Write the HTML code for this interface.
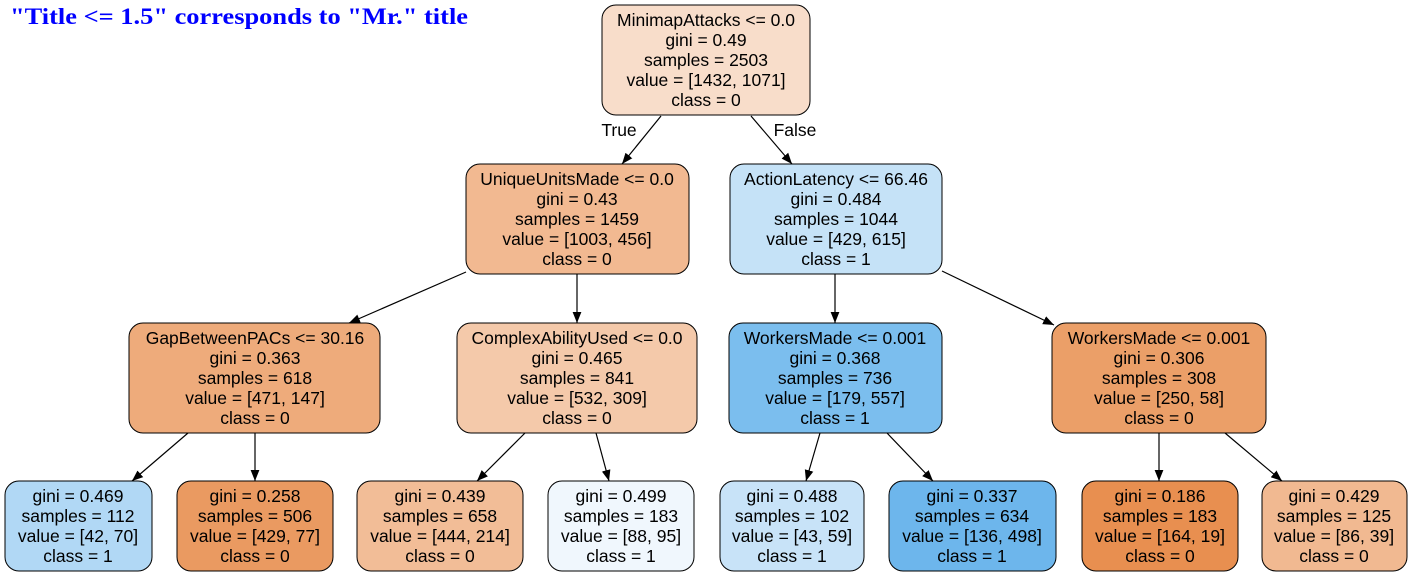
<!DOCTYPE html>
<html><head><meta charset="utf-8"><style>
html,body{margin:0;padding:0;background:#fff;width:1413px;height:577px;overflow:hidden}
svg{display:block}
text{font-family:"Liberation Sans",sans-serif;font-size:17.5px;fill:#000;text-anchor:middle}
.t{font-family:"Liberation Serif",serif;font-weight:bold;font-size:23px;fill:#0000ff;text-anchor:start}
rect{stroke:#000;stroke-width:1}
line{stroke:#000;stroke-width:1.2}
</style></head><body>
<svg width="1413" height="577" viewBox="0 0 1413 577">
<defs><marker id="a" viewBox="0 0 10 10" refX="10" refY="5" markerWidth="11" markerHeight="11" markerUnits="userSpaceOnUse" orient="auto"><path d="M0,1 L10,5 L0,9z" fill="#000"/></marker></defs>
<text class="t" x="10" y="24" textLength="458" lengthAdjust="spacingAndGlyphs">"Title &lt;= 1.5" corresponds to "Mr." title</text>

<g marker-end="url(#a)">
<line x1="661" y1="116" x2="622" y2="164"/>
<line x1="751" y1="116" x2="792" y2="164"/>
<line x1="466" y1="272" x2="349" y2="323"/>
<line x1="577" y1="274" x2="577" y2="323"/>
<line x1="835" y1="274" x2="835" y2="323"/>
<line x1="942" y1="271" x2="1054" y2="325"/>
<line x1="188" y1="433" x2="132" y2="481"/>
<line x1="255" y1="433" x2="255" y2="481"/>
<line x1="525" y1="433" x2="477" y2="481"/>
<line x1="596" y1="433" x2="609" y2="481"/>
<line x1="820" y1="433" x2="806" y2="481"/>
<line x1="887" y1="433" x2="933" y2="481"/>
<line x1="1159" y1="433" x2="1159" y2="481"/>
<line x1="1225" y1="433" x2="1282" y2="481"/>
</g>
<text x="619" y="136">True</text>
<text x="795" y="136">False</text>

<rect x="602" y="5" width="208" height="110" rx="14" fill="#f8ddca"/>
<text x="706" y="26">MinimapAttacks &lt;= 0.0</text><text x="706" y="46">gini = 0.49</text><text x="706" y="66">samples = 2503</text><text x="706" y="86">value = [1432, 1071]</text><text x="706" y="106">class = 0</text>

<rect x="466" y="164" width="223" height="110" rx="14" fill="#f2b991"/>
<text x="577" y="185">UniqueUnitsMade &lt;= 0.0</text><text x="577" y="205">gini = 0.43</text><text x="577" y="225">samples = 1459</text><text x="577" y="245">value = [1003, 456]</text><text x="577" y="265">class = 0</text>

<rect x="730" y="164" width="212" height="110" rx="14" fill="#c5e2f7"/>
<text x="836" y="185">ActionLatency &lt;= 66.46</text><text x="836" y="205">gini = 0.484</text><text x="836" y="225">samples = 1044</text><text x="836" y="245">value = [429, 615]</text><text x="836" y="265">class = 1</text>

<rect x="129" y="323" width="251" height="110" rx="14" fill="#eeab7b"/>
<text x="255" y="344">GapBetweenPACs &lt;= 30.16</text><text x="255" y="364">gini = 0.363</text><text x="255" y="384">samples = 618</text><text x="255" y="404">value = [471, 147]</text><text x="255" y="424">class = 0</text>

<rect x="457" y="323" width="240" height="110" rx="14" fill="#f4c9aa"/>
<text x="577" y="344">ComplexAbilityUsed &lt;= 0.0</text><text x="577" y="364">gini = 0.465</text><text x="577" y="384">samples = 841</text><text x="577" y="404">value = [532, 309]</text><text x="577" y="424">class = 0</text>

<rect x="729" y="323" width="213" height="110" rx="14" fill="#7bbeee"/>
<text x="835" y="344">WorkersMade &lt;= 0.001</text><text x="835" y="364">gini = 0.368</text><text x="835" y="384">samples = 736</text><text x="835" y="404">value = [179, 557]</text><text x="835" y="424">class = 1</text>

<rect x="1052" y="323" width="214" height="110" rx="14" fill="#eb9f68"/>
<text x="1159" y="344">WorkersMade &lt;= 0.001</text><text x="1159" y="364">gini = 0.306</text><text x="1159" y="384">samples = 308</text><text x="1159" y="404">value = [250, 58]</text><text x="1159" y="424">class = 0</text>

<rect x="5" y="481" width="147" height="90" rx="14" fill="#b1d8f5"/>
<text x="78" y="502">gini = 0.469</text><text x="78" y="522">samples = 112</text><text x="78" y="542">value = [42, 70]</text><text x="78" y="562">class = 1</text>

<rect x="177" y="481" width="156" height="90" rx="14" fill="#ea9a61"/>
<text x="255" y="502">gini = 0.258</text><text x="255" y="522">samples = 506</text><text x="255" y="542">value = [429, 77]</text><text x="255" y="562">class = 0</text>

<rect x="357" y="481" width="166" height="90" rx="14" fill="#f2bd97"/>
<text x="440" y="502">gini = 0.439</text><text x="440" y="522">samples = 658</text><text x="440" y="542">value = [444, 214]</text><text x="440" y="562">class = 0</text>

<rect x="548" y="481" width="146" height="90" rx="14" fill="#f0f7fd"/>
<text x="621" y="502">gini = 0.499</text><text x="621" y="522">samples = 183</text><text x="621" y="542">value = [88, 95]</text><text x="621" y="562">class = 1</text>

<rect x="720" y="481" width="144" height="90" rx="14" fill="#c8e3f8"/>
<text x="792" y="502">gini = 0.488</text><text x="792" y="522">samples = 102</text><text x="792" y="542">value = [43, 59]</text><text x="792" y="562">class = 1</text>

<rect x="889" y="481" width="167" height="90" rx="14" fill="#6db6ec"/>
<text x="972" y="502">gini = 0.337</text><text x="972" y="522">samples = 634</text><text x="972" y="542">value = [136, 498]</text><text x="972" y="562">class = 1</text>

<rect x="1082" y="481" width="156" height="90" rx="14" fill="#e88f50"/>
<text x="1160" y="502">gini = 0.186</text><text x="1160" y="522">samples = 183</text><text x="1160" y="542">value = [164, 19]</text><text x="1160" y="562">class = 0</text>

<rect x="1262" y="481" width="145" height="90" rx="14" fill="#f1b991"/>
<text x="1334" y="502">gini = 0.429</text><text x="1334" y="522">samples = 125</text><text x="1334" y="542">value = [86, 39]</text><text x="1334" y="562">class = 0</text>
</svg>
</body></html>
